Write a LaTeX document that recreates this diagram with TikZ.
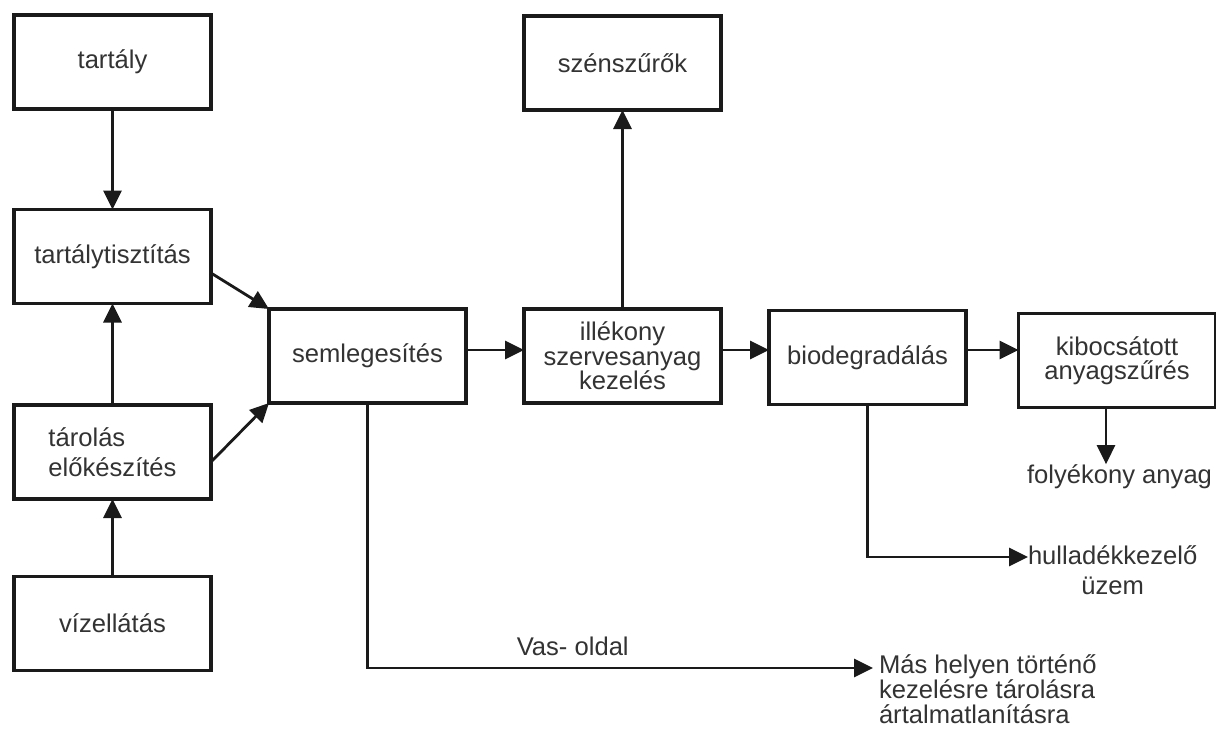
\documentclass[tikz,border=0pt]{standalone}
\usepackage{fontspec}
\setmainfont{Liberation Sans}
\usetikzlibrary{arrows.meta}
\definecolor{c1a1a1a}{RGB}{26,26,26}
\definecolor{c333333}{RGB}{51,51,51}
\def \txtfont {\fontsize{12.8}{14}\selectfont}

\begin{document}
\begin{tikzpicture}[x=0.5pt, y=-0.5pt, inner sep=0pt, outer sep=0pt,
  box/.style={draw=c1a1a1a, fill=white, line width=1.6pt, minimum width=98.5pt, minimum height=47pt, text=c333333, font=\txtfont, align=center},
  outtext/.style={text=c333333, font=\txtfont},
  arrow/.style={draw=c1a1a1a, line width=1.4pt, -{Triangle[length=9.5pt,width=9pt]}}]
  \path[use as bounding box, fill=white] (0,0) rectangle (1216,729);



  \node[box] (tank) at (112.5, 62){tartály};



  \node[box] (cleaning) at (112.5, 256.5){tartálytisztítás};



  \node[box, align=left, font=\fontsize{12.8}{15}\selectfont] (storage) at (112.5, 452){tárolás\\előkészítés};



  \node[box] (water) at (112.5, 623.5){vízellátás};



  \node[box] (neutral) at (367.5, 356){semlegesítés};



  \node[box, font=\fontsize{12.8}{12.2}\selectfont] (voc) at (622.5, 356){illékony\\szervesanyag\\kezelés};



  \node[box] (carbon) at (622.5, 63){szénszűrők};



  \node[box] (biodeg) at (867.5, 357.5){biodegradálás};



  \node[box, font=\fontsize{12.8}{12}\selectfont] (emission) at (1117, 360.5){kibocsátott\\anyagszűrés};



  \node[outtext, anchor=base west] (liquid) at (1027, 483){folyékony anyag};



  \node[outtext, anchor=base west, align=center, font=\fontsize{12.8}{15}\selectfont] (waste) at (1028, 594){hulladékkezelő\\üzem};



  \node[outtext, anchor=base west, align=left, font=\fontsize{12.8}{12.5}\selectfont] (other) at (879, 723){Más helyen történő\\kezelésre tárolásra\\ártalmatlanításra};



  \draw[arrow] (tank) -- (cleaning);



  \draw[arrow] (storage) -- (cleaning);



  \draw[arrow] (water) -- (storage);



  \draw[arrow] ([yshift=-8.25pt]cleaning.east) -- (neutral.north west);



  \draw[arrow] ([yshift=-5pt]storage.east) -- (neutral.south west);



  \draw[arrow] ([yshift=3pt]neutral.east) -- ([yshift=3pt]voc.west);



  \draw[arrow] (voc) -- (carbon);



  \draw[arrow] ([yshift=3pt]voc.east) -- ([yshift=3pt]voc.east -| biodeg.west);



  \draw[arrow] ([yshift=3.75pt]biodeg.east) -- ([yshift=3.75pt]biodeg.east -| emission.west);



  \draw[arrow] ([xshift=-5.5pt]emission.south) -- ([xshift=-5.5pt]emission.south |- liquid.north);



  \draw[arrow] (biodeg.south) |- ([yshift=18.5pt]waste.base west);



  \draw[arrow] (neutral.south) |- node[outtext, pos=0.703, anchor=base, yshift=6.5pt] (side) {Vas- oldal} ([xshift=-3pt, yshift=27.5pt]other.base west);




\end{tikzpicture}
\end{document}
